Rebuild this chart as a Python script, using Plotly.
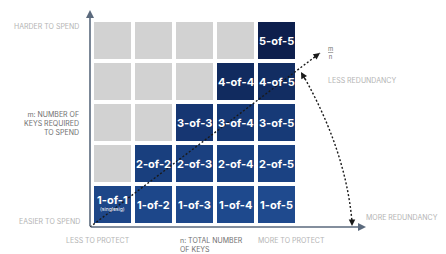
import plotly.graph_objects as go
import numpy as np

# ---- data ----
n_values = [1, 2, 3, 4, 5]          # total number of keys (columns)
m_values = [1, 2, 3, 4, 5]          # keys required to spend (rows)
cell_labels = {(m, n): f"{m}-of-{n}" for n in n_values for m in m_values if m <= n}
sub_labels = {(1, 1): "(singlesig)"}

# ---- page geometry (decoration only); page has an 8px body margin ----
OFF = 8
PW, PH = 446, 254
W, H = PW - OFF, PH - OFF
PL, PR, PT, PB = 90, 366, 10, 227     # plot area in page pixels
L, T = PL - OFF, PT - OFF
R, B = W - (PR - OFF), H - (PB - OFF)
PX = 41.0
x0 = 0.5 - 2 / PX
y0 = 0.5 - 2 / PX
x1 = x0 + (PR - PL) / PX
y1 = y0 + (PB - PT) / PX

def fx(px):
    return x0 + (px - PL) / PX

def fy(py):
    return y0 + (PB - py) / PX

def paper_x(px):
    return (px - PL) / (PR - PL)

def paper_y(py):
    return (PB - py) / (PB - PT)

# matrices
z_blue = np.full((5, 5), np.nan)
z_gray = np.full((5, 5), np.nan)
for i, m in enumerate(m_values):
    for j, n in enumerate(n_values):
        if m <= n:
            z_blue[i, j] = m + 0.15 * (m - n)
        else:
            z_gray[i, j] = 1

fig = go.Figure()
fig.add_trace(go.Heatmap(x=n_values, y=m_values, z=z_gray, xgap=4, ygap=4,
                         colorscale=[[0, "#d2d2d2"], [1, "#d2d2d2"]], showscale=False,
                         hoverinfo="skip"))
fig.add_trace(go.Heatmap(x=n_values, y=m_values, z=z_blue, xgap=4, ygap=4,
                         colorscale=[[0, "#1f4a8e"], [0.5, "#173a77"], [1, "#0d1f4d"]],
                         zmin=0.4, zmax=5, showscale=False, hoverinfo="skip"))

ann = []
for (m, n), lab in cell_labels.items():
    dy = 0.12 if (m, n) in sub_labels else 0
    ann.append(dict(x=n, y=m + dy, text=lab, showarrow=False,
                    font=dict(family="Inter", size=11, color="white", weight="bold")))
for (m, n), lab in sub_labels.items():
    ann.append(dict(x=n, y=m - 0.12, text=lab, showarrow=False,
                    font=dict(family="Inter", size=5, color="white")))

# diagonal dotted line
tip = (fx(320), fy(53))
fig.add_trace(go.Scatter(x=[x0, tip[0]], y=[y0, tip[1]], mode="lines",
                         line=dict(color="#1a1a1a", width=1.4, dash="2px,2px"),
                         hoverinfo="skip", showlegend=False, cliponaxis=False))
ann.append(dict(x=tip[0], y=tip[1], ax=-7, ay=5, showarrow=True, arrowhead=2,
                arrowsize=1, arrowwidth=1.3, arrowcolor="#1a1a1a", text=""))

# curved double arrow
p0 = (fx(303), fy(75)); c = (fx(346), fy(151)); p2 = (fx(352), fy(222))
fig.add_shape(type="path",
              path=f"M {p0[0]},{p0[1]} Q {c[0]},{c[1]} {p2[0]},{p2[1]}",
              line=dict(color="#1a1a1a", width=1.4, dash="2px,2px"))
ann.append(dict(x=fx(301), y=fy(72), ax=5, ay=9, showarrow=True, arrowhead=2,
                arrowsize=1, arrowwidth=1.3, arrowcolor="#1a1a1a", text=""))
ann.append(dict(x=fx(352), y=fy(226), ax=0, ay=-8, showarrow=True, arrowhead=2,
                arrowsize=1, arrowwidth=1.3, arrowcolor="#1a1a1a", text=""))

# axes arrows
ax_col = "#5b6a7d"
ann.append(dict(x=x1, y=y0, ax=x0 - 0.02, ay=y0, axref="x", ayref="y", showarrow=True,
                arrowhead=2, arrowsize=1, arrowwidth=1.6, arrowcolor=ax_col, text=""))
ann.append(dict(x=x0, y=y1, ax=x0, ay=y0 - 0.02, axref="x", ayref="y", showarrow=True,
                arrowhead=2, arrowsize=1, arrowwidth=1.6, arrowcolor=ax_col, text=""))

light = "#b4b4b4"
dark = "#6f6f6f"
def txt(px, py, s, anchor, color, align="left", size=7):
    ann.append(dict(x=paper_x(px), y=paper_y(py), xref="paper", yref="paper",
                    text=s, showarrow=False, xanchor=anchor,
                    yanchor="middle", align=align,
                    font=dict(family="Inter", size=size, color=color)))

txt(81, 26, "HARDER TO SPEND", "right", light)
txt(81, 123, "m: NUMBER OF<br>KEYS REQUIRED<br>TO SPEND", "right", dark, "right")
txt(82, 221, "EASIER TO SPEND", "right", light)
txt(98, 240, "LESS TO PROTECT", "center", light)
txt(178, 245, "n: TOTAL NUMBER<br>OF KEYS", "left", dark)
txt(291, 240, "MORE TO PROTECT", "center", light)
txt(364, 217, "MORE REDUNDANCY", "left", light)
txt(326, 80, "LESS REDUNDANCY", "left", light)
txt(330, 52.5, "<u>m</u><br>n", "center", dark, "center", size=6)

fig.update_layout(
    width=W, height=H, margin=dict(l=L, r=R, t=T, b=B),
    paper_bgcolor="white", plot_bgcolor="white",
    xaxis=dict(range=[x0, x1], visible=False, fixedrange=True),
    yaxis=dict(range=[y0, y1], visible=False, fixedrange=True),
    annotations=ann, showlegend=False,
)
fig.write_html("out.html")
